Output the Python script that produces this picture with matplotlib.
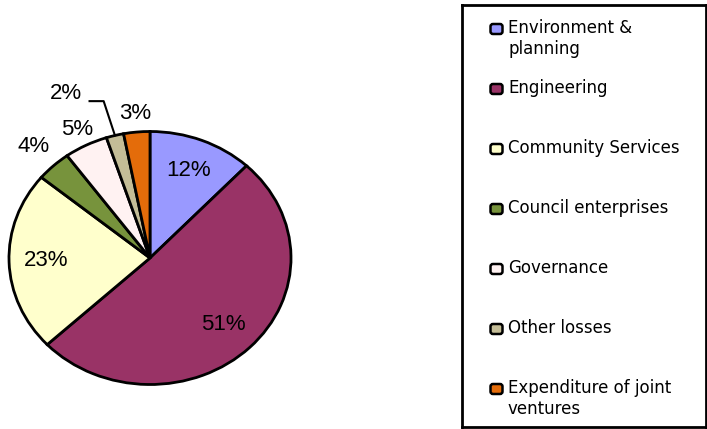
import numpy as np
import matplotlib
matplotlib.use("Agg")
import matplotlib.pyplot as plt
from matplotlib.patches import FancyBboxPatch

# data
categories = ["Environment &\nplanning", "Engineering", "Community Services",
              "Council enterprises", "Governance", "Other losses",
              "Expenditure of joint\nventures"]
shares = [12, 51, 23, 4, 5, 2, 3]
colors = ["#9999FF", "#993366", "#FFFFCC", "#77933C", "#FFF2F2", "#C4BD97", "#E46C0A"]

W, H = 707, 429
fig = plt.figure(figsize=(W / 100, H / 100), dpi=100)

# pie axes: ellipse centred at (150, 258) px, rx 141, ry 126.5
cx, cy, rx, ry = 150, 258, 141, 126.5
ax = fig.add_axes([(cx - rx) / W, (H - cy - ry) / H, 2 * rx / W, 2 * ry / H])
wedges, texts, pcts = ax.pie(
    shares, colors=colors, startangle=90, counterclock=False,
    autopct="%1.0f%%", pctdistance=0.74,
    wedgeprops=dict(edgecolor="black", linewidth=2),
    textprops=dict(fontsize=16, family="Liberation Sans", color="black"),
)
ax.set_aspect("auto")
ax.set_xlim(-1, 1)
ax.set_ylim(-1, 1)

# move small labels outside
outer_dist = {3: 1.21, 4: 1.14, 6: 1.15}
for i, (w, t) in enumerate(zip(wedges, pcts)):
    mid = np.deg2rad((w.theta1 + w.theta2) / 2)
    if i in outer_dist:
        r = outer_dist[i]
        t.set_position((r * np.cos(mid), r * np.sin(mid)))
        t.set_ha("center")
    elif i == 5:
        ex, ey = np.cos(mid), np.sin(mid)
        knee = (ex - 0.08, 1.24)
        ax.plot([ex, knee[0], knee[0] - 0.1], [ey, knee[1], knee[1]],
                color="black", lw=1.5, clip_on=False)
        t.set_position((knee[0] - 0.27, 1.30))
        t.set_ha("center")
        t.set_va("center")

# legend box drawn in pixel coordinates
bx0, by0, bx1, by1 = 462, 5, 706, 427
lax = fig.add_axes([bx0 / W, (H - by1) / H, (bx1 - bx0) / W, (by1 - by0) / H])
lax.set_xlim(bx0, bx1)
lax.set_ylim(by1, by0)
lax.set_xticks([])
lax.set_yticks([])
for s in lax.spines.values():
    s.set_linewidth(2)
    s.set_color("black")

for i, (lab, col) in enumerate(zip(categories, colors)):
    y = 29 + 60 * i
    lax.add_patch(FancyBboxPatch((492, y - 3.5), 9, 7,
                                 boxstyle="round,pad=1.5,rounding_size=2.5",
                                 facecolor=col, edgecolor="black", lw=1.8))
    lax.text(508, y - 9.5, lab, fontsize=12, family="DejaVu Sans",
             va="top", ha="left", linespacing=1.15)

fig.savefig("out.png", dpi=100)
